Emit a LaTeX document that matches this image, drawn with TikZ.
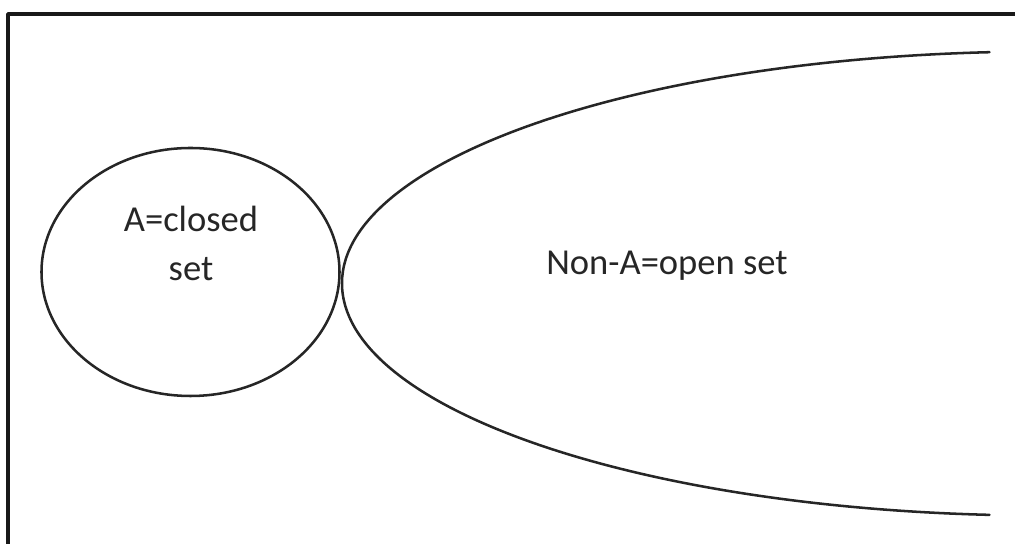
\documentclass[tikz,border=0pt]{standalone}
\usepackage{fontspec}
\setmainfont{Carlito}
\usepackage{tikz}
\usetikzlibrary{positioning}

\begin{document}
\begin{tikzpicture}[line cap=round,line join=round,x=0.025cm,y=0.025cm, curve/.style={line width=1.8pt, draw=black!85}, lbl/.style={text=black!85, font=\fontsize{26}{35}\selectfont, align=center}]
                    \useasboundingbox (0,0) rectangle (1015,544);
                    \clip (0,0) rectangle (1015,544);

                    % frame
                    \draw [line width=2.6pt, draw=black!90] (8,530) rectangle (1040,-20);

                    % closed set A
                    \draw [curve] (190.5,272) ellipse [x radius=149, y radius=124];
                    \node[lbl, anchor=base] (closed) at (191,263) {A=closed\\set};

                    % open set Non-A
                    \draw [curve] (989.5,491.8) arc [start angle=94.3, end angle=265.7, x radius=700, y radius=232];
                    \node[lbl, anchor=base] (open) at (667,269) {Non-A=open set};
                \end{tikzpicture}
\end{document}
